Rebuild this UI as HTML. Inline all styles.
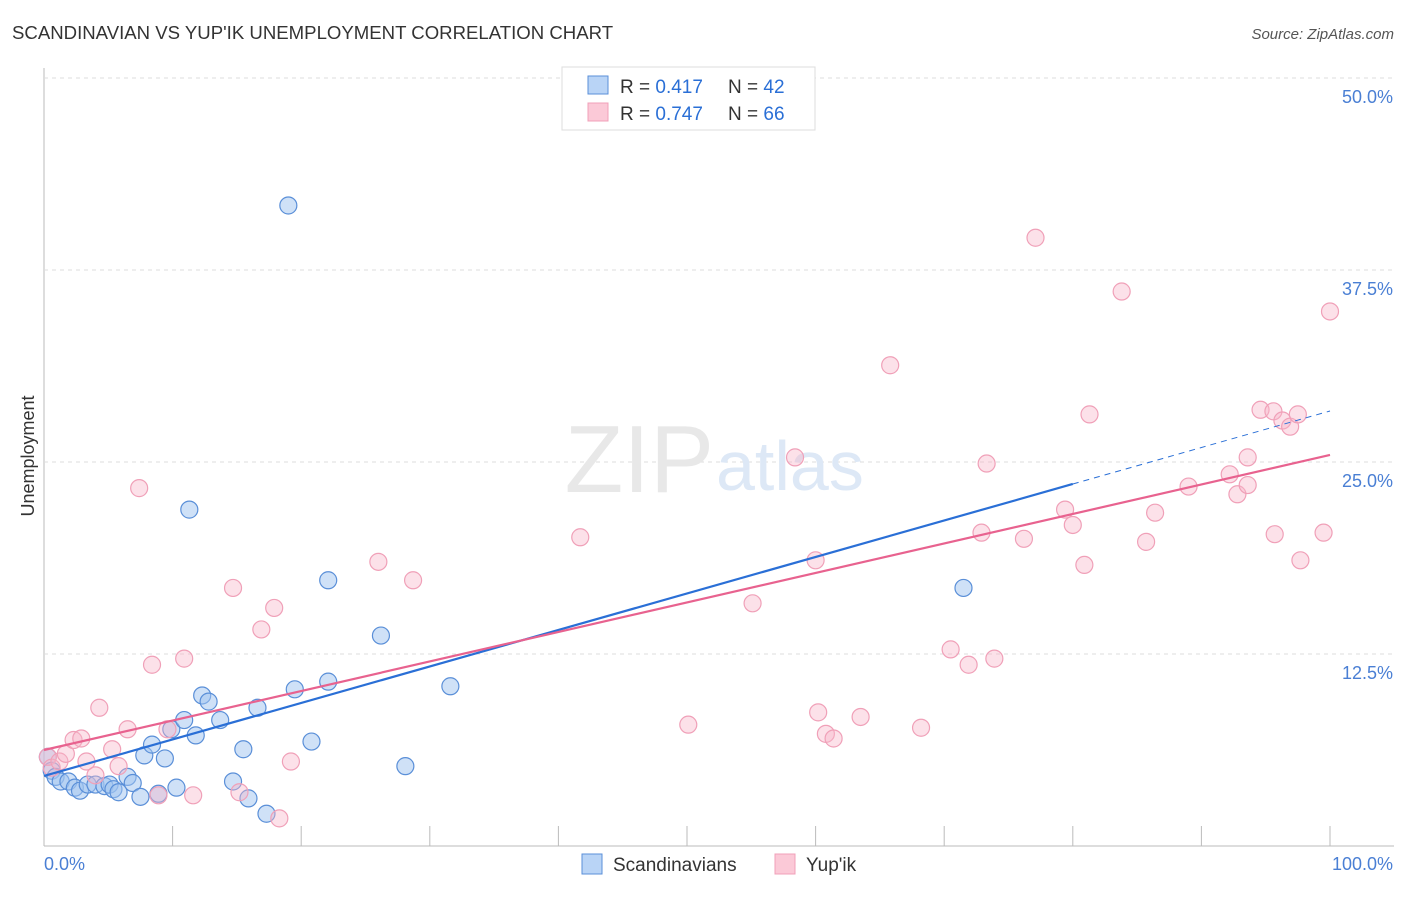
<!DOCTYPE html>
<html><head><meta charset="utf-8"><style>
body{margin:0;background:#fff;font-family:"Liberation Sans",sans-serif;}
svg text{font-family:"Liberation Sans",sans-serif;}
</style></head><body>
<svg id="chart" width="1406" height="892">
<text x="12" y="39" font-size="18.6" fill="#333">SCANDINAVIAN VS YUP'IK UNEMPLOYMENT CORRELATION CHART</text>
<text x="1394" y="39" font-size="15" fill="#555" font-style="italic" text-anchor="end">Source: ZipAtlas.com</text>
<text x="34" y="456" font-size="18" fill="#333" text-anchor="middle" transform="rotate(-90 34 456)">Unemployment</text>
<g id="grid"></g>
<text x="714" y="492" font-size="96" fill="#e8e8e8" text-anchor="end" font-family="Liberation Serif">ZIP</text>
<text x="716" y="490" font-size="70" fill="#dde8f6">atlas</text>
<g id="marks"></g>
<g>
<rect x="562" y="67" width="253" height="63" fill="#fff" stroke="#ddd"/>
<rect x="588" y="76" width="20" height="18" fill="#b9d4f6" stroke="#5a8fd8"/>
<rect x="588" y="103" width="20" height="18" fill="#fbc9d7" stroke="#f0a0b8"/>
<text x="620" y="93" font-size="19" fill="#333">R = <tspan fill="#2a6fd6">0.417</tspan></text>
<text x="728" y="93" font-size="19" fill="#333">N = <tspan fill="#2a6fd6">42</tspan></text>
<text x="620" y="120" font-size="19" fill="#333">R = <tspan fill="#2a6fd6">0.747</tspan></text>
<text x="728" y="120" font-size="19" fill="#333">N = <tspan fill="#2a6fd6">66</tspan></text>
</g>
<g>
<rect x="582" y="854" width="20" height="20" fill="#b9d4f6" stroke="#5a8fd8"/>
<text x="613" y="871" font-size="19" fill="#333">Scandinavians</text>
<rect x="775" y="854" width="20" height="20" fill="#fbc9d7" stroke="#f0a0b8"/>
<text x="806" y="871" font-size="19" fill="#333">Yup'ik</text>
</g>
</svg>
<script>
const blueX=[0.3,0.6,0.9,1.3,1.9,2.4,2.8,3.4,4.0,4.7,5.1,5.4,5.8,6.5,6.9,7.5,7.8,8.4,8.9,9.4,9.9,10.3,10.9,11.3,11.8,12.3,12.8,13.7,14.7,15.5,15.9,16.6,17.3,19.0,19.5,20.8,22.1,22.1,26.2,28.1,31.6,71.5];
const blueY=[5.8,4.9,4.5,4.2,4.2,3.8,3.6,4.0,4.0,3.9,4.0,3.7,3.5,4.5,4.1,3.2,5.9,6.6,3.4,5.7,7.6,3.8,8.2,21.9,7.2,9.8,9.4,8.2,4.2,6.3,3.1,9.0,2.1,41.7,10.2,6.8,17.3,10.7,13.7,5.2,10.4,16.8];
const pinkX=[0.3,0.6,1.2,1.7,2.3,2.9,3.3,4.0,4.3,5.3,5.8,6.5,7.4,8.4,8.9,9.6,10.9,11.6,14.7,15.2,16.9,17.9,18.3,19.2,26.0,28.7,41.7,50.1,55.1,58.4,60.0,60.2,60.8,61.4,63.5,65.8,68.2,70.5,71.9,72.9,73.3,73.9,76.2,77.1,79.4,80.0,80.9,81.3,83.8,85.7,86.4,89.0,92.2,92.8,93.6,93.6,94.6,95.6,95.7,96.3,96.9,97.5,97.7,99.5,100.0];
const pinkY=[5.8,5.1,5.5,6.0,6.9,7.0,5.5,4.6,9.0,6.3,5.2,7.6,23.3,11.8,3.3,7.6,12.2,3.3,16.8,3.5,14.1,15.5,1.8,5.5,18.5,17.3,20.1,7.9,15.8,25.3,18.6,8.7,7.3,7.0,8.4,31.3,7.7,12.8,11.8,20.4,24.9,12.2,20.0,39.6,21.9,20.9,18.3,28.1,36.1,19.8,21.7,23.4,24.2,22.9,25.3,23.5,28.4,28.3,20.3,27.7,27.3,28.1,18.6,20.4,34.8];
const blueFit=[4.56,0.2376];
const pinkFit=[6.25,0.1921];
const yTicks=[12.5,25.0,37.5,50.0];
const xTickLabels=["0.0%","100.0%"];
const NS='http://www.w3.org/2000/svg';
const X=v=>44+v*12.86, Y=v=>846-v*15.36;
function mk(t,a,p){const e=document.createElementNS(NS,t);for(const k in a)e.setAttribute(k,a[k]);p.appendChild(e);return e;}
const g=document.getElementById('grid'), m=document.getElementById('marks');
mk('line',{x1:44,y1:68,x2:44,y2:846,stroke:'#bbb'},g);
mk('line',{x1:44,y1:846,x2:1394,y2:846,stroke:'#bbb'},g);
mk('line',{x1:44,y1:78,x2:1394,y2:78,stroke:'#ddd','stroke-dasharray':'4 4'},g);
for(let i=0;i<=10;i++){const l=mk('line',{x1:X(i*10),y1:826,x2:X(i*10),y2:846,stroke:'#bbb'},g);

}
yTicks.forEach(v=>{const l=mk('line',{x1:44,y1:Y(v),x2:1394,y2:Y(v),stroke:'#ddd','stroke-dasharray':'4 4'},g);


const t=mk('text',{x:1393,y:Y(v)+25,'font-size':18,fill:'#4a7fd4','text-anchor':'end'},g);t.textContent=v.toFixed(1)+'%';

});
const t0=mk('text',{x:44,y:870,'font-size':18,fill:'#4a7fd4'},g);t0.textContent=xTickLabels[0];


const t1=mk('text',{x:1393,y:870,'font-size':18,fill:'#4a7fd4','text-anchor':'end'},g);t1.textContent=xTickLabels[1];


blueX.forEach((x,i)=>{const c=mk('circle',{cx:X(x),cy:Y(blueY[i]),r:8.5,fill:'rgba(160,195,240,0.5)',stroke:'#5a8fd8','stroke-width':1.2},m);

});
pinkX.forEach((x,i)=>{const c=mk('circle',{cx:X(x),cy:Y(pinkY[i]),r:8.5,fill:'rgba(248,180,200,0.4)',stroke:'#f0a0b8','stroke-width':1.2},m);

});
const fb=x=>blueFit[0]+blueFit[1]*x, fp=x=>pinkFit[0]+pinkFit[1]*x;
const bl=mk('line',{x1:X(0),y1:Y(fb(0)),x2:X(80),y2:Y(fb(80)),stroke:'#2a6fd6','stroke-width':2.2},m);


const bd=mk('line',{x1:X(80),y1:Y(fb(80)),x2:X(100),y2:Y(fb(100)),stroke:'#2a6fd6','stroke-width':1,'stroke-dasharray':'6 5'},m);


const pl=mk('line',{x1:X(0),y1:Y(fp(0)),x2:X(100),y2:Y(fp(100)),stroke:'#e8628f','stroke-width':2.2},m);


</script>
</body></html>
